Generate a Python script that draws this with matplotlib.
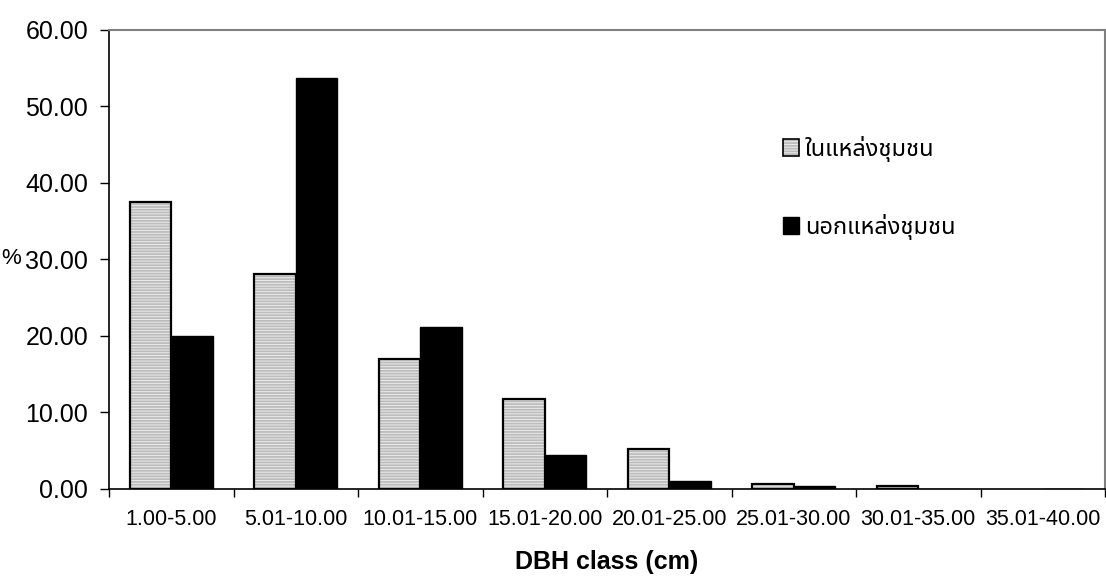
import matplotlib
matplotlib.use("Agg")
import matplotlib.pyplot as plt
from matplotlib.patches import Patch
from matplotlib.legend_handler import HandlerTuple
from matplotlib.ticker import FormatStrFormatter
import numpy as np

categories = ["1.00-5.00", "5.01-10.00", "10.01-15.00", "15.01-20.00",
              "20.01-25.00", "25.01-30.00", "30.01-35.00", "35.01-40.00"]
inside = [37.4, 28.0, 16.9, 11.7, 5.1, 0.6, 0.3, 0.0]
outside = [20.0, 53.7, 21.1, 4.4, 1.0, 0.3, 0.0, 0.0]
series_names = ["ในแหล่งชุมชน", "นอกแหล่งชุมชน"]
y_ticks = [0, 10, 20, 30, 40, 50, 60]

thai_family = ["Noto Sans Thai", "Tlwg Typo", "Loma", "Garuda", "Noto Sans", "DejaVu Sans"]
plt.rcParams['font.family'] = ['Liberation Sans', 'DejaVu Sans']
plt.rcParams['hatch.linewidth'] = 1.3

fig = plt.figure(figsize=(11.06, 5.85), dpi=100)
ax = fig.add_axes([109/1106, 1 - 488.5/585, (1105-109)/1106, (488.5-29.5)/585])

x = np.arange(len(categories))
w = 1/3
hatch_face = '#ebebeb'
hatch_col = '#bcbcbc'

ax.bar(x + 1/3, inside, width=w, facecolor=hatch_face, edgecolor=hatch_col,
       hatch='------', linewidth=0, zorder=2)
outline_lw = [1.6 if v > 0 else 0 for v in inside]
ax.bar(x + 1/3, inside, width=w, fill=False, edgecolor='black', linewidth=outline_lw, zorder=3)
ax.bar(x + 2/3, outside, width=w, facecolor='black', edgecolor='black', linewidth=1.0, zorder=3)

ax.set_xlim(0, len(categories))
ax.set_ylim(0, 60)
ax.set_xticks(np.arange(len(categories) + 1))
ax.set_xticklabels([])
ax.set_xticks(x + 0.5, labels=categories, minor=True)
ax.tick_params(axis='x', which='major', direction='out', length=6, width=1, color='black')
ax.tick_params(axis='x', which='minor', length=0, labelsize=15.5, pad=14.5)
ax.set_yticks(y_ticks)
ax.yaxis.set_major_formatter(FormatStrFormatter('%.2f'))
ax.tick_params(axis='y', direction='out', length=6.5, width=1, labelsize=18, pad=8.6)

for s in ['left', 'bottom']:
    ax.spines[s].set_color('black')
    ax.spines[s].set_linewidth(1.2)
for s in ['top', 'right']:
    ax.spines[s].set_color('#7f7f7f')
    ax.spines[s].set_linewidth(1.5)

ax.set_xlabel("DBH class (cm)", fontsize=18, fontweight='bold', labelpad=15)
fig.text(1/1106, 1 - 258/585, "%", fontsize=16, va='center', ha='left')

h_in = (Patch(facecolor=hatch_face, edgecolor=hatch_col, hatch='------', linewidth=0),
        Patch(fill=False, edgecolor='black', linewidth=1.2))
h_out = Patch(facecolor='black', edgecolor='black')
leg = ax.legend([h_in, h_out], series_names,
                handler_map={tuple: HandlerTuple(ndivide=1, pad=0)},
                loc='upper left', bbox_to_anchor=((771 - 109)/996, 1 - (124 - 29.5)/459),
                bbox_transform=ax.transAxes, frameon=False, borderpad=0,
                handlelength=0.68, handleheight=0.68,
                handletextpad=0.25, labelspacing=2.2, prop={'family': thai_family, 'size': 17})

fig.savefig("out.png", dpi=100)
